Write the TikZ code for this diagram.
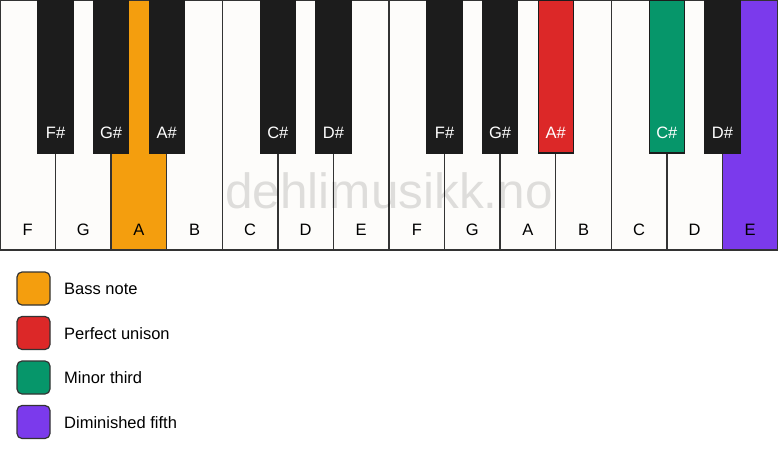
\documentclass[tikz,border=0pt]{standalone}
\usepackage{fontspec}
\setmainfont{Liberation Sans}
\definecolor{keywhite}{HTML}{FDFCFA}
\definecolor{keyblack}{HTML}{1C1C1C}
\definecolor{keyline}{HTML}{333333}
\definecolor{bassorange}{HTML}{F49E0E}
\definecolor{unisonred}{HTML}{DC2828}
\definecolor{thirdgreen}{HTML}{06966A}
\definecolor{fifthpurple}{HTML}{7B3AEC}
\tikzset{
    whitekey/.style={draw=keyline,line width=1.5pt},
    blackkey/.style={draw=keyblack,line width=1.2pt},
    keylabel/.style={inner sep=0,font=\keyfontsize},
    swatch/.style={draw=keyline,line width=1.2pt,rounded corners=5pt},
    legendtext/.style={anchor=west,inner sep=0,font=\legendfontsize}
}
\begin{document}
\begin{tikzpicture}[x=1pt,y=-1pt]
    \pgfmathsetmacro{\keywidth}{778/14}
    \pgfmathsetmacro{\keyheight}{250}
    \pgfmathsetmacro{\blackwidth}{35}
    \pgfmathsetmacro{\blackheight}{153}
    \providecommand{\keyfontsize}{\fontsize{16.5}{19}\selectfont}
    \providecommand{\legendfontsize}{\fontsize{16.5}{19}\selectfont}
    \providecommand{\markfontsize}{\fontsize{49.5}{56}\selectfont}
    \useasboundingbox (0,0) rectangle (778,461);
    % white keys
    \foreach \n/\c [count=\i from 0] in {F/keywhite,G/keywhite,A/bassorange,B/keywhite,C/keywhite,D/keywhite,E/keywhite,F/keywhite,G/keywhite,A/keywhite,B/keywhite,C/keywhite,D/keywhite,E/fifthpurple}
        {
        \draw[whitekey,fill=\c] ({\i*\keywidth},0) rectangle ++(\keywidth,\keyheight);
        \node[keylabel] (w\i) at ({(\i+0.5)*\keywidth},230) {\n};
        }
    \node[inner sep=0,font=\markfontsize,text=black,text opacity=0.12] (mark) at (389,191) {dehlimusikk.no};
    % black keys
    \foreach \b/\n/\c/\t in {1/F\#/keyblack/white,2/G\#/keyblack/white,3/A\#/keyblack/white,5/C\#/keyblack/white,6/D\#/keyblack/white,8/F\#/keyblack/white,9/G\#/keyblack/white,10/A\#/unisonred/white,12/C\#/thirdgreen/white,13/D\#/keyblack/white}
        {
        \draw[blackkey,fill=\c] ({\b*\keywidth-\blackwidth/2},0) rectangle ++(\blackwidth,\blackheight);
        \node[keylabel,text=\t] (b\b) at ({\b*\keywidth},133) {\n};
        }
    % legend
    \foreach \c/\l [count=\j from 0] in {bassorange/Bass note,unisonred/Perfect unison,thirdgreen/Minor third,fifthpurple/Diminished fifth}
        {
        \draw[swatch,fill=\c] (17,{272+\j*44.5}) rectangle ++(33,33);
        \node[legendtext] (l\j) at (64,{289+\j*44.5}) {\l};
        }
\end{tikzpicture}
\end{document}
